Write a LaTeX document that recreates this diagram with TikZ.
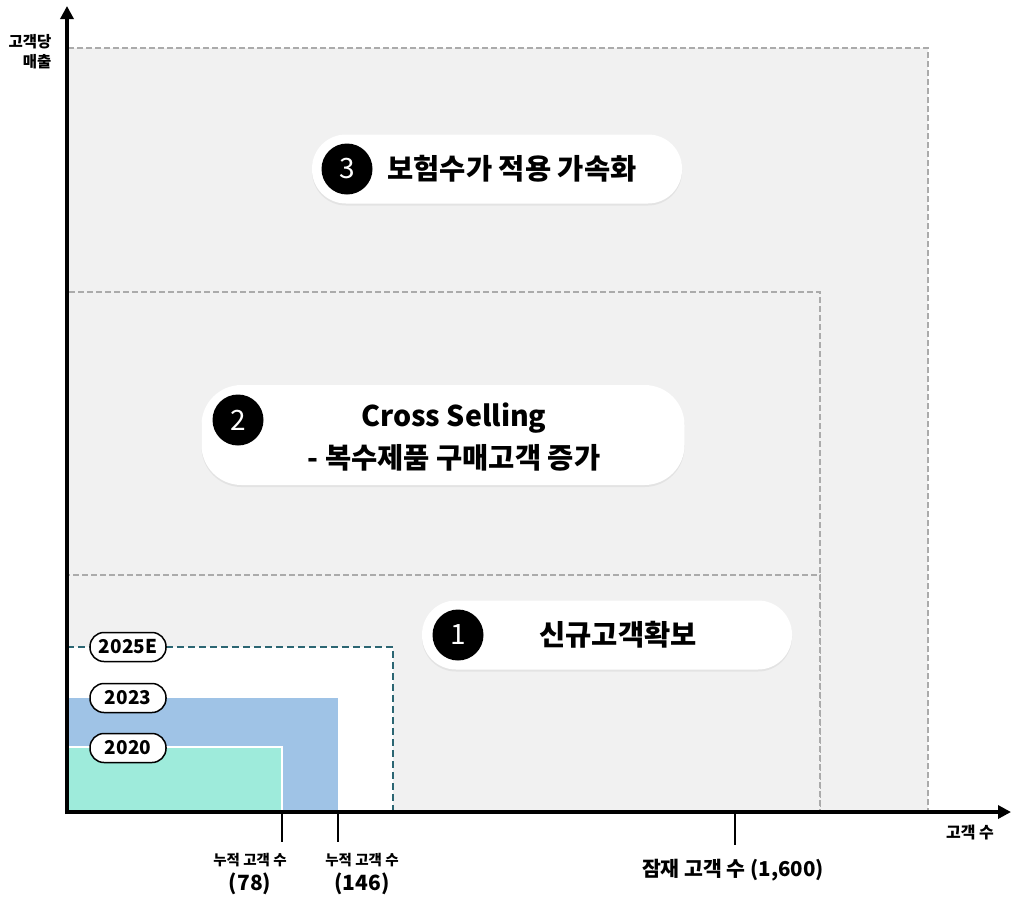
\documentclass[tikz,border=0pt]{standalone}
\usepackage{fontspec}
\setmainfont{Noto Sans CJK KR}
\usetikzlibrary{arrows.meta,shadows}

\definecolor{stagegray}{HTML}{F1F1F1}
\definecolor{dashgray}{HTML}{ABABAB}
\definecolor{dashteal}{HTML}{2C6673}
\definecolor{bar23}{HTML}{9FC3E6}
\definecolor{bar20}{HTML}{9EEBDB}

\tikzset{
  stage/.style={fill=stagegray, draw=dashgray, line width=2pt, dash pattern=on 6pt off 3pt},
  pill/.style={fill=white, inner sep=0pt, drop shadow={opacity=0.12, shadow xshift=0pt, shadow yshift=-2pt}},
  numdot/.style={circle, fill=black, text=white, minimum size=51pt, inner sep=0pt, font=\fontsize{28}{28}\selectfont},
  pilltext/.style={font=\fontsize{28.5}{42}\selectfont\bfseries, align=center},
  yearpill/.style={draw, line width=1.5pt, rounded corners=14pt, fill=white, minimum width=76pt, minimum height=29pt, inner sep=0pt, font=\fontsize{19}{19}\selectfont\bfseries},
  ticklabel/.style={font=\fontsize{14.5}{25}\selectfont\bfseries, align=center},
}

\begin{document}
\begin{tikzpicture}[x=1pt, y=-1pt]
    \useasboundingbox (0,0) rectangle (1011,902);

    % Draw the three stage areas
    \draw[stage] (67,812) rectangle (928,48);
    \draw[stage] (67,812) rectangle (820,292);
    \draw[stage] (67,812) rectangle (820,575);

    % Draw the customer areas per year
    \draw[fill=white, draw=dashteal, line width=2.5pt, dash pattern=on 7pt off 4pt] (67,812) rectangle (393,647);
    \fill[bar23] (67,812) rectangle (338,698);
    \draw[fill=bar20, draw=white, line width=1.5pt] (66,813) rectangle (282,747);

    % Draw the axes
    \coordinate (o) at (67,812);
    \coordinate (ytop) at (67,6);
    \coordinate (xend) at (1011,812);
    \draw[line width=4pt, -{Triangle[length=13pt, width=13pt]}] ([yshift=-2pt]o) -- (ytop);
    \draw[line width=4pt, -{Triangle[length=13pt, width=13pt]}] ([xshift=-2pt]o) -- (xend);
    \node[font=\fontsize{15.5}{20}\selectfont\bfseries, align=right, anchor=east] (ylabel) at (55,52) {고객당\\매출};
    \node[font=\fontsize{16}{16}\selectfont\bfseries] (xlabel) at (970,832) {고객 수};

    % Add the ticks and their labels on the x axis
    \coordinate (t78) at (282,812);
    \coordinate (t146) at (338,812);
    \coordinate (tpot) at (735,812);
    \node[ticklabel, anchor=north] (l78) at (250,850) {누적 고객 수\\{\fontsize{21}{21}\selectfont(78)}};
    \node[ticklabel, anchor=north] (l146) at (362,850) {누적 고객 수\\{\fontsize{21}{21}\selectfont(146)}};
    \node[font=\fontsize{20.5}{20.5}\selectfont\bfseries] (lpot) at (733,870) {잠재 고객 수 (1,600)};
    \draw[line width=1.5pt] (t78) -- (t78 |- 0,842);
    \draw[line width=1.5pt] (t146) -- (t146 |- 0,842);
    \draw[line width=1.5pt] (tpot) -- (tpot |- 0,845);

    % Add the year labels
    \node[yearpill] (y2025) at (128,647) {2025E};
    \node[yearpill] (y2023) at (128,698) {2023};
    \node[yearpill] (y2020) at (128,748) {2020};

    % Add the stage boxes with their numbers
    \node[pill, rounded corners=34pt, minimum width=370pt, minimum height=69pt] (stage3) at (497,169) {};
    \node[numdot] (n3) at (347,169) {3};
    \node[pilltext, anchor=west] (t3) at (384,169) {보험수가 적용 가속화};

    \node[pill, rounded corners=40pt, minimum width=483pt, minimum height=100pt] (stage2) at (443,435) {};
    \node[numdot] (n2) at (238,420) {2};
    \node[pilltext] (t2) at (454,437) {Cross Selling\\- 복수제품 구매고객 증가};

    \node[pill, rounded corners=34pt, minimum width=370pt, minimum height=69pt] (stage1) at (607,635) {};
    \node[numdot] (n1) at (458,635) {1};
    \node[pilltext] (t1) at (618,635) {신규고객확보};

\end{tikzpicture}
\end{document}
